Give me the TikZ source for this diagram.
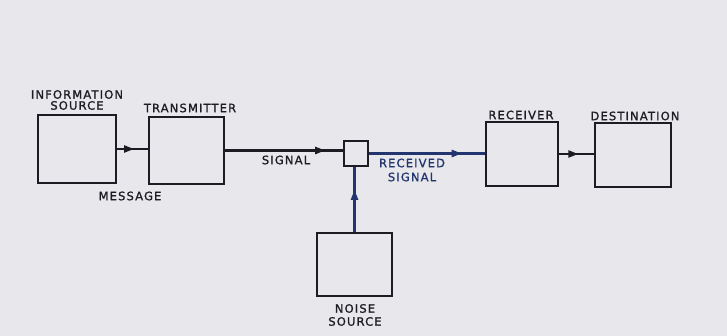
\documentclass[tikz,border=0pt]{standalone}
\usepackage{fontspec}
\setmainfont{DejaVu Sans}
\newfontfamily\lettering[LetterSpace=10,FakeBold=1.2]{DejaVu Sans}
\usetikzlibrary{decorations.markings,arrows.meta}
\definecolor{ink}{HTML}{1C1C22}
\definecolor{blueink}{HTML}{22356E}
\definecolor{paper}{HTML}{E8E8EC}
\begin{document}
\begin{tikzpicture}[x=1pt,y=-1pt,
  blk/.style={draw=ink, line width=2.2pt, inner sep=0pt},
  lbl/.style={font=\lettering\fontsize{11.5}{12}\selectfont, text=ink, align=center, inner sep=0pt},
  wire/.style={draw=ink, line width=2.2pt},
  midarrow/.style={decoration={markings, mark=at position #1 with {\arrow{Triangle[length=10pt,width=7pt]}}}, postaction={decorate}}]
\fill[paper] (0,0) rectangle (727,336);
\useasboundingbox (0,0) rectangle (727,336);
% boxes
\node[blk, minimum width=78pt, minimum height=68pt] (info) at (77,149) {};
\node[blk, minimum width=75pt, minimum height=67pt] (trans) at (186.5,150.5) {};
\node[blk, minimum width=24pt, minimum height=25pt] (small) at (356,153.5) {};
\node[blk, minimum width=72pt, minimum height=64pt] (rec) at (522,154) {};
\node[blk, minimum width=76pt, minimum height=64pt] (dest) at (633,155) {};
\node[blk, minimum width=75pt, minimum height=63pt] (noise) at (354.5,264.5) {};
% connectors
\draw[wire, midarrow=0.55] (info.east) -- (info.east -| trans.west);
\draw[wire, midarrow=0.85] (trans.east) -- (trans.east -| small.west);
\draw[wire, draw=blueink, fill=blueink, midarrow=0.8] (small.east) -- (small.east -| rec.west);
\draw[wire, midarrow=0.55] (rec.east) -- (rec.east -| dest.west);
\draw[wire, draw=blueink, fill=blueink, midarrow=0.65] (noise.north) -- (noise.north |- small.south);
% labels
\node[lbl] (tinfo) at (77,100) {INFORMATION\\[-1pt]SOURCE};
\node[lbl] (ttrans) at (190,108) {TRANSMITTER};
\node[lbl] (tmsg) at (130,196) {MESSAGE};
\node[lbl] (tsig) at (286,160) {SIGNAL};
\node[lbl, text=blueink] (trsig) at (412,170) {RECEIVED\\[2pt]SIGNAL};
\node[lbl] (trec) at (521,115) {RECEIVER};
\node[lbl] (tdest) at (635,116) {DESTINATION};
\node[lbl] (tnoise) at (355,315) {NOISE\\[1pt]SOURCE};
\end{tikzpicture}
\end{document}
